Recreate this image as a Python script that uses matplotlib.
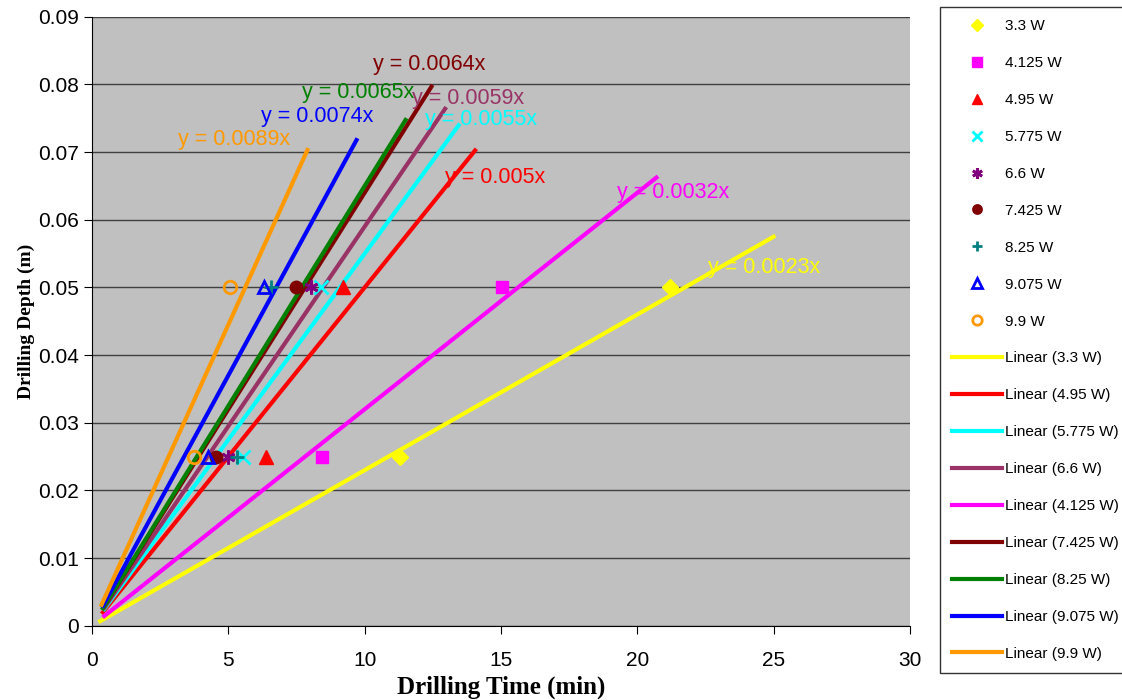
import numpy as np
import matplotlib.pyplot as plt

# measured points (drilling time in min, depth in m)
powers = ['3.3 W', '4.125 W', '4.95 W', '5.775 W', '6.6 W', '7.425 W', '8.25 W', '9.075 W', '9.9 W']
depths = [0.025, 0.05]
time_25 = [11.3, 8.45, 6.4, 5.55, 5.0, 4.55, 5.3, 4.25, 3.75]
time_50 = [21.2, 15.05, 9.2, 8.4, 8.05, 7.5, 6.55, 6.3, 5.05]

# trendlines (through origin)
trend_names = ['3.3 W', '4.95 W', '5.775 W', '6.6 W', '4.125 W', '7.425 W', '8.25 W', '9.075 W', '9.9 W']
slopes = [0.0023, 0.005, 0.0055, 0.0059, 0.0032, 0.0064, 0.0065, 0.0074, 0.0089]
x_start = [0.3, 0.4, 0.45, 0.45, 0.45, 0.45, 0.4, 0.4, 0.35]
x_end = [25.0, 14.05, 13.45, 12.95, 20.7, 12.45, 11.5, 9.7, 7.9]
eq_text = ['y = 0.0023x', 'y = 0.005x', 'y = 0.0055x', 'y = 0.0059x', 'y = 0.0032x',
           'y = 0.0064x', 'y = 0.0065x', 'y = 0.0074x', 'y = 0.0089x']
eq_x = [22.6, 12.95, 12.2, 11.75, 19.25, 10.3, 7.7, 6.2, 3.15]
eq_y = [0.0529, 0.0662, 0.0748, 0.0780, 0.0640, 0.0829, 0.0788, 0.0752, 0.0718]

marker_style = {
    '3.3 W': dict(marker='D', color='#FFFF00', ms=8, mfc='#FFFF00'),
    '4.125 W': dict(marker='s', color='#FF00FF', ms=9, mfc='#FF00FF'),
    '4.95 W': dict(marker='^', color='#FF0000', ms=10, mfc='#FF0000'),
    '5.775 W': dict(marker='x', color='#00FFFF', ms=10, mew=2),
    '6.6 W': dict(marker=(6, 2, 0), color='#800080', ms=10, mew=2),
    '7.425 W': dict(marker='o', color='#800000', ms=9, mfc='#800000'),
    '8.25 W': dict(marker='+', color='#008080', ms=10, mew=2),
    '9.075 W': dict(marker='^', color='#0000FF', ms=9, mfc='none', mew=2),
    '9.9 W': dict(marker='o', color='#FF9900', ms=9, mfc='none', mew=2),
}
line_colors = {
    '3.3 W': '#FFFF00', '4.95 W': '#FF0000', '5.775 W': '#00FFFF', '6.6 W': '#993366',
    '4.125 W': '#FF00FF', '7.425 W': '#800000', '8.25 W': '#008000', '9.075 W': '#0000FF',
    '9.9 W': '#FF9900',
}

plt.rcParams['font.family'] = ['Liberation Sans', 'DejaVu Sans']

fig = plt.figure(figsize=(11.22, 7.0), dpi=100)
ax = fig.add_axes([0.082, 0.106, 0.729, 0.870])
ax.set_facecolor('#C0C0C0')

handles = []
for i, p in enumerate(powers):
    st = marker_style[p]
    h, = ax.plot([time_25[i], time_50[i]], depths, linestyle='none', label=p, zorder=4, **st)
    handles.append(h)

for i, n in enumerate(trend_names):
    xs = np.array([x_start[i], x_end[i]])
    h, = ax.plot(xs, slopes[i] * xs, color=line_colors[n], lw=3, label='Linear (%s)' % n, zorder=3)
    handles.append(h)
    ax.text(eq_x[i], eq_y[i], eq_text[i], color=line_colors[n], fontsize=15.5,
            ha='left', va='center', zorder=5)

ax.set_xlim(0, 30)
ax.set_ylim(0, 0.09)
ax.set_xticks(np.arange(0, 31, 5))
ax.set_yticks(np.arange(0, 0.091, 0.01))
ax.set_yticklabels(['0'] + ['%.2f' % v for v in np.arange(0.01, 0.091, 0.01)])
ax.yaxis.grid(True, color='#404040', lw=1)
ax.set_axisbelow(True)
for s in ['top', 'right']:
    ax.spines[s].set_visible(False)
ax.tick_params(labelsize=15, length=6, direction='out')
ax.tick_params(axis='x', pad=12)

ax.set_xlabel('Drilling Time (min)', fontsize=18, fontweight='bold', family='Liberation Serif', labelpad=4)
ax.set_ylabel('Drilling Depth (m)', fontsize=14, fontweight='bold', family='Liberation Serif', labelpad=2)

leg = fig.legend(handles=handles, loc='upper left', bbox_to_anchor=(0.8378, 0.99),
                 fontsize=11, frameon=True, fancybox=False, edgecolor='black',
                 handlelength=3.27, labelspacing=1.5, borderpad=0.8, handletextpad=0.2,
                 borderaxespad=0)
leg.get_frame().set_linewidth(1)
for h in leg.legend_handles[:len(powers)]:
    h.set_markersize(h.get_markersize() * 0.75)

fig.savefig('out.png', dpi=100)
